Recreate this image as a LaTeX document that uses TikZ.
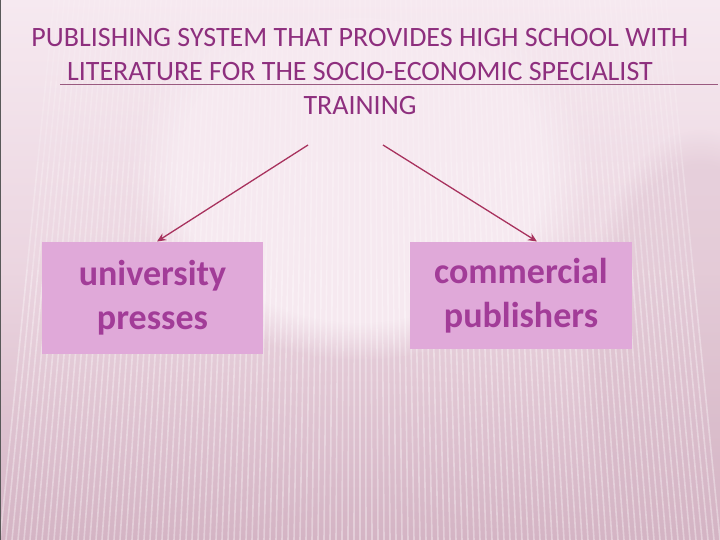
\documentclass[tikz,border=0pt]{standalone}
\usepackage{fontspec}
\setmainfont{Carlito}
\usetikzlibrary{arrows.meta,fadings}
\definecolor{titlecol}{HTML}{8E2F7E}
\definecolor{boxfill}{HTML}{E0A9D9}
\definecolor{boxtext}{HTML}{A23C98}
\definecolor{arrowcol}{HTML}{A8325E}
\definecolor{bgtop}{HTML}{F6E9F0}
\definecolor{bgmid}{HTML}{EBD5E0}
\definecolor{bgbot}{HTML}{D4B4C4}
\definecolor{rulecol}{HTML}{9A5A80}
\tikzset{
  titletext/.style={text=titlecol, font=\fontsize{28}{34}\selectfont, align=center, inner sep=0pt},
  pubbox/.style={fill=boxfill, draw=none, text=boxtext, font=\bfseries\fontsize{36}{44}\selectfont, align=center, inner sep=0pt},
  link/.style={draw=arrowcol, line width=1.3pt, -{Stealth[length=9pt,width=8pt,inset=3pt]}},
  stripe/.style={draw=white, line width=1.6pt}
}
\begin{document}
\begin{tikzpicture}[x=1pt,y=-1pt]
\useasboundingbox (0,0) rectangle (720,540);
% background
\shade[top color=bgtop, bottom color=bgbot, middle color=bgmid] (0,0) rectangle (720,540);
\fill[bgtop, path fading=circle with fuzzy edge 20 percent] (360,170) ellipse (230 and 190);
\fill[bgbot, opacity=0.3, path fading=circle with fuzzy edge 15 percent] (700,360) ellipse (120 and 230);
\foreach \i in {0,...,120}{
  \pgfmathsetmacro{\xb}{\i*6}
  \pgfmathsetmacro{\xt}{360+(\xb-360)*0.85}
  \pgfmathsetmacro{\xa}{\xt+(\xb-\xt)*0.15}
  \pgfmathsetmacro{\xm}{\xt+(\xb-\xt)*0.3}
  \pgfmathsetmacro{\xn}{\xt+(\xb-\xt)*0.5}
  \draw[stripe, opacity=0.12] (\xt,0) -- (\xa,81);
  \draw[stripe, opacity=0.18] (\xa,81) -- (\xm,162);
  \draw[stripe, opacity=0.26] (\xm,162) -- (\xn,270);
  \draw[stripe, opacity=0.35] (\xn,270) -- (\xb,540);
}
\draw[gray!70!black, line width=1pt] (0,0) rectangle (720,540);
% title
\node[titletext] (title) at (360,72) {PUBLISHING SYSTEM THAT PROVIDES HIGH SCHOOL WITH\\LITERATURE FOR THE SOCIO-ECONOMIC SPECIALIST\\TRAINING};
\coordinate (ruleL) at (60,84);
\coordinate (ruleR) at (718,84);
\draw[rulecol, line width=0.8pt] (ruleL) -- (ruleR);
% boxes
\node[pubbox, minimum width=221pt, minimum height=112pt] (uni) at (152.5,298) {university\\presses};
\node[pubbox, minimum width=222pt, minimum height=107pt] (com) at (521,295.5) {commercial\\publishers};
% arrows
\coordinate (srcL) at (308,145);
\coordinate (srcR) at (383,145);
\draw[link] (srcL) -- (157,241.5);
\draw[link] (srcR) -- (537,241.5);
\end{tikzpicture}
\end{document}
